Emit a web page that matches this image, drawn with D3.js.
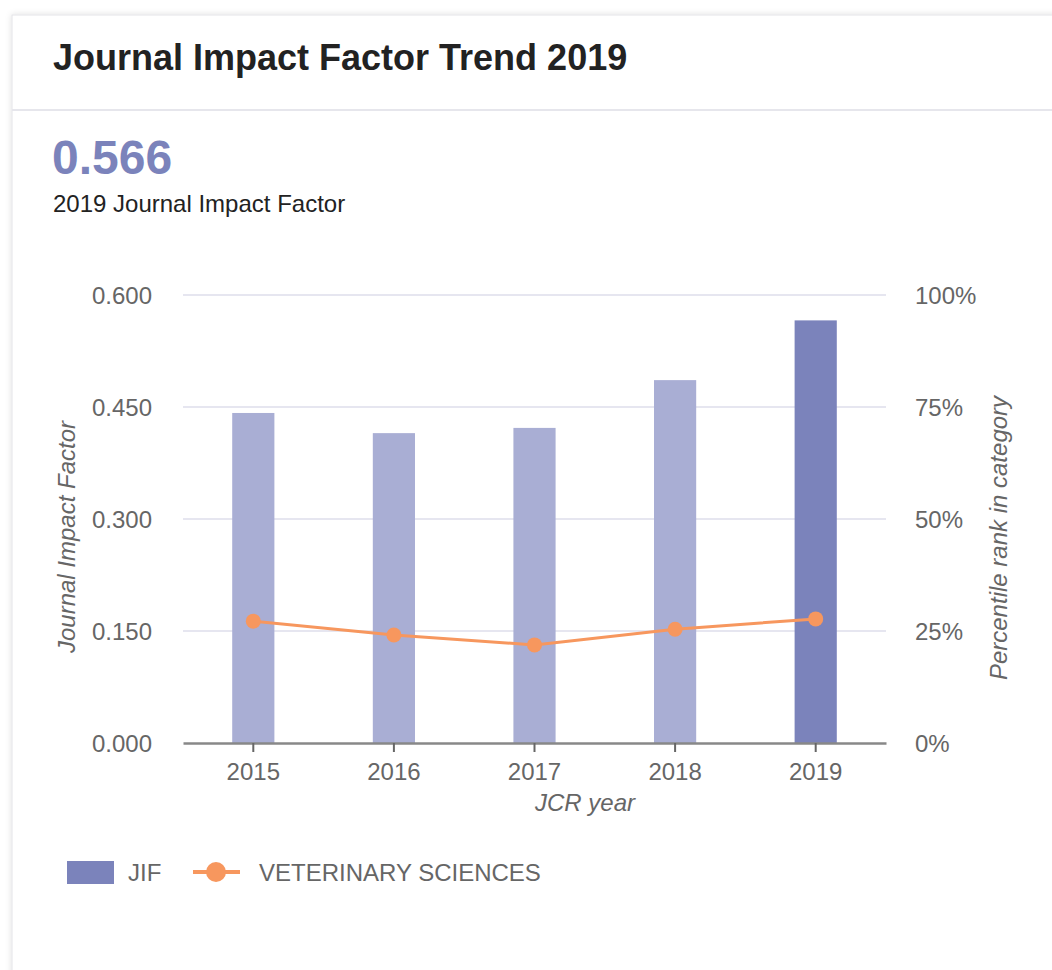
<!DOCTYPE html>
<html>
<head>
<meta charset="utf-8">
<script src="https://cdnjs.cloudflare.com/ajax/libs/d3/7.8.5/d3.min.js"></script>
<style>
  body { margin: 0; background: #fff; font-family: "Liberation Sans", Arial, sans-serif; }
  .axis text { fill: #666; font-size: 24px; font-family: "Liberation Sans", Arial, sans-serif; }
</style>
</head>
<body>
<div id="chart"></div>
<script>
var years = ["2015", "2016", "2017", "2018", "2019"];
var jif = [0.442, 0.415, 0.422, 0.486, 0.566];
var percentile = [27.2, 24.1, 21.9, 25.4, 27.7];
var jifTicks = [0, 0.15, 0.3, 0.45, 0.6];
var pctTicks = [0, 25, 50, 75, 100];

var width = 1052, height = 970;
var plot = { left: 183, right: 886, top: 295, bottom: 743 };

var svg = d3.select("#chart").append("svg")
    .attr("width", width)
    .attr("height", height);

// card
var defs = svg.append("defs");
var f = defs.append("filter").attr("id", "shadow").attr("x", "-5%").attr("y", "-5%").attr("width", "110%").attr("height", "110%");
f.append("feDropShadow").attr("dx", 0).attr("dy", 0).attr("stdDeviation", 3).attr("flood-color", "#000").attr("flood-opacity", 0.12);

svg.append("rect")
    .attr("x", 12).attr("y", 15)
    .attr("width", 1100).attr("height", 1000)
    .attr("fill", "#fff")
    .attr("stroke", "#e4e4e8")
    .attr("filter", "url(#shadow)");

svg.append("line")
    .attr("x1", 12).attr("x2", width)
    .attr("y1", 110).attr("y2", 110)
    .attr("stroke", "#e6e6ec").attr("stroke-width", 2);

svg.append("text")
    .attr("x", 53).attr("y", 70)
    .attr("font-size", 36).attr("font-weight", "bold")
    .attr("fill", "#222")
    .text("Journal Impact Factor Trend 2019");

svg.append("text")
    .attr("x", 52).attr("y", 174)
    .attr("font-size", 48).attr("font-weight", "bold")
    .attr("fill", "#7b83bb")
    .text(jif[jif.length - 1].toFixed(3));

svg.append("text")
    .attr("x", 53).attr("y", 212)
    .attr("font-size", 24)
    .attr("fill", "#222")
    .text("2019 Journal Impact Factor");

// scales
var x = d3.scaleBand()
    .domain(years)
    .range([plot.left, plot.right])
    .paddingInner(0.7)
    .paddingOuter(0.35);

var y = d3.scaleLinear()
    .domain([0, 0.6])
    .range([plot.bottom, plot.top]);

var y2 = d3.scaleLinear()
    .domain([0, 100])
    .range([plot.bottom, plot.top]);

// grid
svg.append("g")
    .selectAll("line")
    .data(jifTicks.slice(1))
    .join("line")
    .attr("x1", plot.left).attr("x2", plot.right)
    .attr("y1", function (d) { return y(d); })
    .attr("y2", function (d) { return y(d); })
    .attr("stroke", "#e6e6f0").attr("stroke-width", 2);

// bars
svg.append("g")
    .selectAll("rect")
    .data(jif)
    .join("rect")
    .attr("x", function (d, i) { return x(years[i]); })
    .attr("width", x.bandwidth())
    .attr("y", function (d) { return y(d); })
    .attr("height", function (d) { return y(0) - y(d); })
    .attr("fill", function (d, i) { return i == years.length - 1 ? "#7b83bb" : "#a9aed4"; });

// left axis
var yAxis = svg.append("g")
    .attr("class", "axis")
    .attr("transform", "translate(" + (plot.left - 31) + ",0)")
    .call(d3.axisLeft(y).tickValues(jifTicks).tickFormat(d3.format(".3f")).tickSize(0).tickPadding(0));
yAxis.select(".domain").remove();
yAxis.selectAll("text").attr("dy", "0.35em");

// right axis
var y2Axis = svg.append("g")
    .attr("class", "axis")
    .attr("transform", "translate(" + (plot.right + 29) + ",0)")
    .call(d3.axisRight(y2).tickValues(pctTicks).tickFormat(function (d) { return d + "%"; }).tickSize(0).tickPadding(0));
y2Axis.select(".domain").remove();
y2Axis.selectAll("text").attr("dy", "0.35em");

// bottom axis
var xAxis = svg.append("g")
    .attr("class", "axis")
    .attr("transform", "translate(0," + plot.bottom + ")")
    .call(d3.axisBottom(x).tickSize(9).tickPadding(11).tickSizeOuter(0));
xAxis.select(".domain").attr("stroke", "#888").attr("stroke-width", 2.5);
xAxis.selectAll(".tick line").attr("stroke", "#666").attr("stroke-width", 2);

// percentile line
var line = d3.line()
    .x(function (d, i) { return x(years[i]) + x.bandwidth() / 2; })
    .y(function (d) { return y2(d); });

svg.append("path")
    .datum(percentile)
    .attr("d", line)
    .attr("fill", "none")
    .attr("stroke", "#f7975e")
    .attr("stroke-width", 3);

svg.append("g")
    .selectAll("circle")
    .data(percentile)
    .join("circle")
    .attr("cx", function (d, i) { return x(years[i]) + x.bandwidth() / 2; })
    .attr("cy", function (d) { return y2(d); })
    .attr("r", 7.5)
    .attr("fill", "#f7975e");

// axis titles
svg.append("text")
    .attr("transform", "translate(75,537) rotate(-90)")
    .attr("text-anchor", "middle")
    .attr("font-size", 24).attr("font-style", "italic")
    .attr("fill", "#666")
    .text("Journal Impact Factor");

svg.append("text")
    .attr("transform", "translate(1007,538) rotate(-90)")
    .attr("text-anchor", "middle")
    .attr("font-size", 24).attr("font-style", "italic")
    .attr("fill", "#666")
    .text("Percentile rank in category");

svg.append("text")
    .attr("x", 585).attr("y", 811)
    .attr("text-anchor", "middle")
    .attr("font-size", 24).attr("font-style", "italic")
    .attr("fill", "#666")
    .text("JCR year");

// legend
var legend = svg.append("g");
legend.append("rect")
    .attr("x", 67).attr("y", 861)
    .attr("width", 47).attr("height", 23)
    .attr("fill", "#7b83bb");
legend.append("text")
    .attr("x", 128).attr("y", 881)
    .attr("font-size", 24).attr("fill", "#666")
    .text("JIF");
legend.append("line")
    .attr("x1", 193).attr("x2", 240)
    .attr("y1", 872).attr("y2", 872)
    .attr("stroke", "#f7975e").attr("stroke-width", 4);
legend.append("circle")
    .attr("cx", 216).attr("cy", 872).attr("r", 10)
    .attr("fill", "#f7975e");
legend.append("text")
    .attr("x", 259).attr("y", 881)
    .attr("font-size", 24).attr("fill", "#666")
    .text("VETERINARY SCIENCES");
</script>
</body>
</html>
